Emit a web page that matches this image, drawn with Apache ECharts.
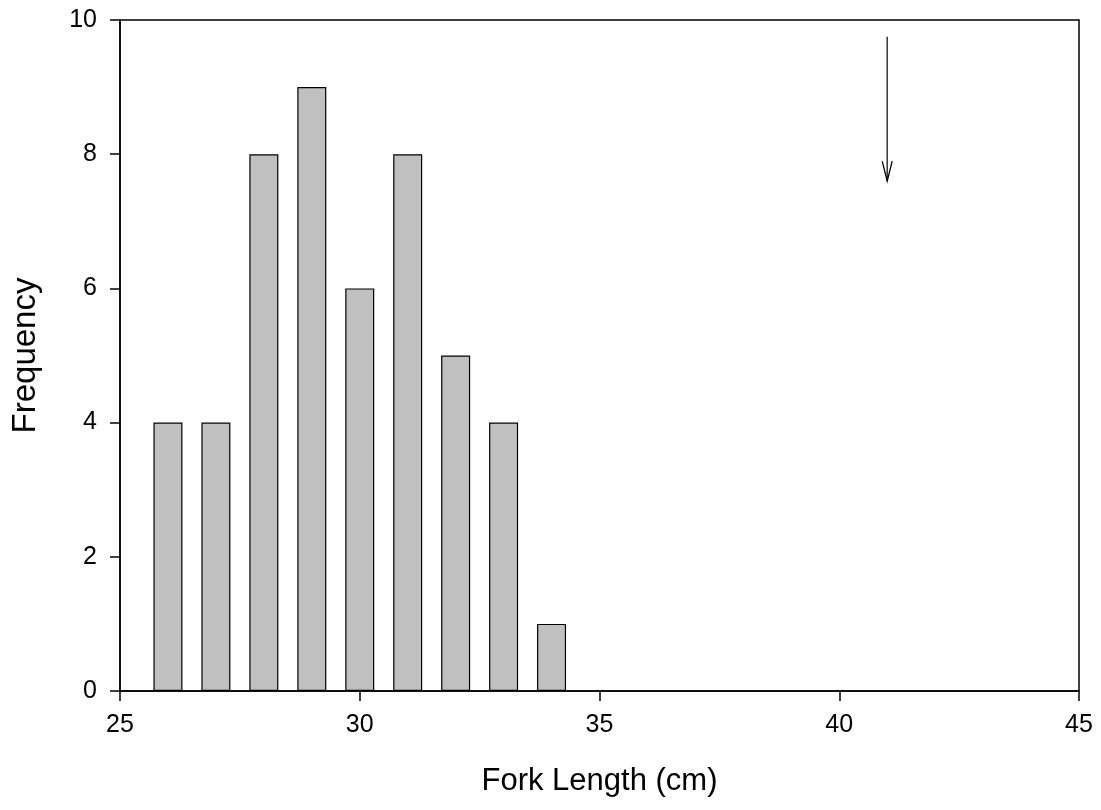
<!DOCTYPE html>
<html><head><meta charset="utf-8">
<script src="https://cdn.jsdelivr.net/npm/echarts@6/dist/echarts.min.js"></script>
<style>html,body{margin:0;padding:0;background:#fff}#c{width:1101px;height:810px}</style>
</head><body><div id="c"></div>
<script>
const binCenters = [26, 27, 28, 29, 30, 31, 32, 33, 34];
const frequency = [4, 4, 8, 9, 6, 8, 5, 4, 1];
const xTicks = [25, 30, 35, 40, 45];
const yTicks = [0, 2, 4, 6, 8, 10];
const arrowX = 41;
const arrowTop = 9.75;
const arrowBottom = 7.6;

const chart = echarts.init(document.getElementById('c'));
const font = 'Liberation Sans, Arial, sans-serif';
chart.setOption({
  animation: false,
  grid: {left: 120, right: 22, top: 20, bottom: 119, show: true, borderColor: '#000', borderWidth: 1.5, backgroundColor: 'transparent'},
  xAxis: {
    type: 'value', min: xTicks[0], max: xTicks[xTicks.length-1], interval: 5,
    name: 'Fork Length (cm)', nameLocation: 'middle', nameGap: 75,
    nameTextStyle: {fontFamily: font, fontSize: 31, color: '#000'},
    axisLine: {show: true, lineStyle: {color: '#000', width: 1.5}},
    axisTick: {show: true, inside: false, length: 10, lineStyle: {color: '#000', width: 1.5}},
    axisLabel: {fontFamily: font, fontSize: 25, color: '#000', margin: 22},
    splitLine: {show: false}
  },
  yAxis: {
    type: 'value', min: yTicks[0], max: yTicks[yTicks.length-1], interval: 2,
    name: 'Frequency', nameLocation: 'middle', nameGap: 78, nameRotate: 90,
    nameTextStyle: {fontFamily: font, fontSize: 33, color: '#000'},
    axisLine: {show: true, lineStyle: {color: '#000', width: 1.5}},
    axisTick: {show: true, inside: false, length: 10, lineStyle: {color: '#000', width: 1.5}},
    axisLabel: {fontFamily: font, fontSize: 25, color: '#000', margin: 23},
    splitLine: {show: false}
  },
  series: [
    {
      type: 'bar', barWidth: 29,
      data: binCenters.map((x, i) => [x, frequency[i]]),
      itemStyle: {color: '#c0c0c0', borderColor: '#000', borderWidth: 1.2}
    },
    {
      type: 'custom',
      data: [[arrowX, arrowTop, arrowBottom]],
      renderItem: function (params, api) {
        const p1 = api.coord([api.value(0), api.value(1)]);
        const p2 = api.coord([api.value(0), api.value(2)]);
        return {type: 'group', children: [
          {type: 'line', shape: {x1: p1[0], y1: p1[1], x2: p2[0], y2: p2[1]}, style: {stroke: '#333', lineWidth: 1.5}},
          {type: 'polyline', shape: {points: [[p2[0]-5, p2[1]-20], [p2[0], p2[1]], [p2[0]+5, p2[1]-20]]}, style: {stroke: '#000', lineWidth: 1.3, fill: null}}
        ]};
      }
    }
  ]
});
</script></body></html>
